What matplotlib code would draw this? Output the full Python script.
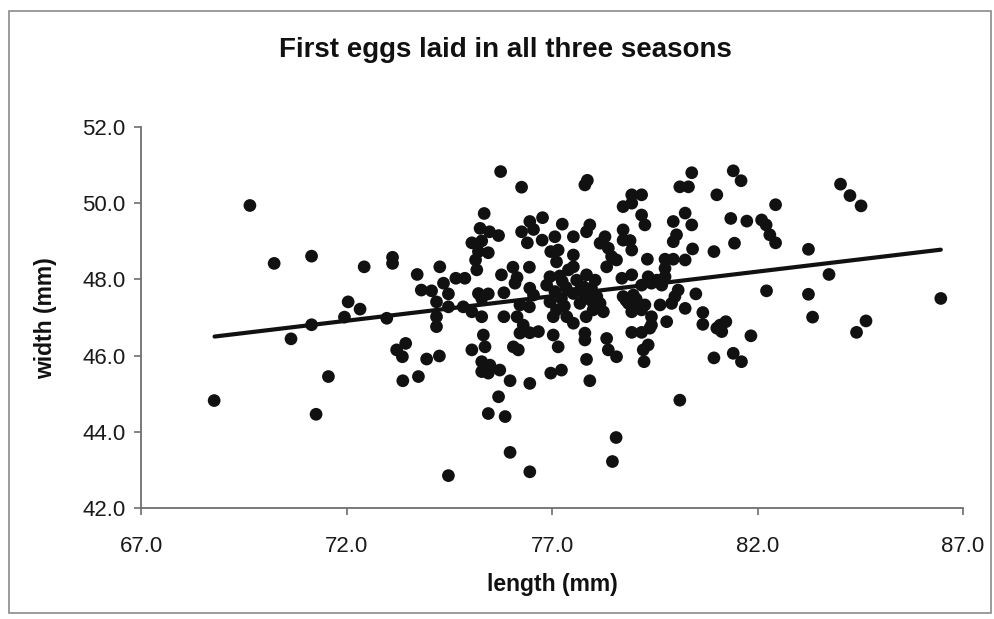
import matplotlib
matplotlib.use("Agg")
import matplotlib.pyplot as plt
from matplotlib.patches import Rectangle
import numpy as np

plt.rcParams['font.family'] = ['Liberation Sans', 'DejaVu Sans']

# egg measurements (length, width) in mm
length_mm = [
    # small eggs
    68.78, 69.65, 70.24, 70.65, 71.15, 71.15, 71.26, 71.56, 71.95, 72.04,
    72.33, 72.43, 72.98, 73.12, 73.12, 73.22, 73.44, 73.36, 73.37, 73.72,
    73.82, 73.75, 73.95,
    # 74 - 77.5 mm
    75.75, 76.26, 75.35, 76.77, 76.46, 77.25, 75.25, 75.48, 75.70, 76.26,
    76.55, 76.40, 76.76, 77.07, 75.05, 75.29, 75.21, 75.45, 76.97, 77.15,
    75.14, 77.11, 74.27, 75.17, 76.05, 76.45, 74.66, 74.88, 75.77, 76.15,
    74.36, 76.10, 76.95, 77.19, 74.07, 74.48, 75.21, 75.45, 75.83, 76.46,
    76.87, 76.55, 77.07, 77.34, 74.19, 75.29, 76.22, 76.45, 76.95, 77.23,
    74.48, 74.84, 75.05, 74.19, 75.29, 75.83, 76.15, 77.11, 77.03, 77.36,
    76.30, 74.19, 76.22, 76.46, 76.67, 77.03, 75.33, 75.37, 76.06, 76.18,
    77.15, 75.05, 74.26, 75.29, 75.49, 75.37, 75.29, 75.45, 75.73, 75.98,
    76.46, 76.97, 77.23, 75.70, 75.45, 75.86, 74.48, 75.98, 76.46,
    77.25, 77.40, 77.30,
    # 77.5 - 81 mm
    77.86, 77.80, 80.40, 80.11, 80.32, 81.01, 78.94, 79.18, 78.73, 78.94,
    79.18, 80.24, 79.95, 80.40, 79.26, 77.92, 77.84, 77.52, 78.73, 80.03,
    79.95, 78.29, 78.17, 78.73, 78.90, 78.37, 78.94, 80.42, 80.94, 77.52,
    78.45, 78.57, 79.32, 79.75, 79.95, 80.24, 77.52, 78.33, 79.75, 77.84,
    78.05, 78.70, 78.94, 79.34, 79.55, 79.75, 77.60, 77.76, 77.96, 79.18,
    79.42, 79.67, 77.52, 77.80, 78.09, 78.73, 78.98, 80.07, 80.50, 77.68,
    78.17, 78.86, 79.06, 79.26, 79.63, 79.91, 79.99, 78.94, 79.18, 78.25,
    80.24, 80.67, 77.83, 79.42, 79.79, 77.52, 80.67, 81.01, 77.80, 79.42,
    78.94, 79.18, 79.38, 77.80, 78.33, 79.34, 79.22, 78.37, 78.57, 77.84,
    79.24, 80.94, 77.92, 80.11, 78.47, 78.56,
    78.80, 79.05, 78.95, 77.95, 78.00, 77.70,
    # large eggs
    81.41, 81.60, 81.35, 81.74, 82.10, 82.21, 82.30, 82.44, 82.44, 81.44,
    82.22, 81.09, 81.23, 81.13, 81.84, 81.41, 81.61, 84.02, 84.25, 84.52,
    83.24, 83.74, 83.24, 83.34, 86.46, 84.64, 84.41,
]
width_mm = [
    44.82, 49.94, 48.42, 46.44, 48.61, 46.81, 44.46, 45.45, 47.01, 47.41,
    47.22, 48.33, 46.98, 48.58, 48.42, 46.15, 46.32, 45.97, 45.34, 48.13,
    47.72, 45.45, 45.91,
    50.83, 50.42, 49.73, 49.62, 49.52, 49.45, 49.34, 49.25, 49.15, 49.25,
    49.31, 48.96, 49.03, 49.12, 48.96, 49.01, 48.73, 48.70, 48.73, 48.77,
    48.51, 48.46, 48.33, 48.25, 48.32, 48.32, 48.03, 48.03, 48.12, 48.05,
    47.90, 47.90, 48.07, 48.09, 47.70, 47.62, 47.63, 47.62, 47.65, 47.77,
    47.85, 47.59, 47.68, 47.79, 47.41, 47.50, 47.33, 47.28, 47.41, 47.50,
    47.28, 47.28, 47.15, 47.02, 47.02, 47.02, 47.02, 47.20, 47.02, 47.02,
    46.80, 46.76, 46.59, 46.60, 46.63, 46.54, 46.54, 46.23, 46.23, 46.15,
    46.23, 46.15, 45.99, 45.84, 45.75, 45.67, 45.58, 45.54, 45.62, 45.34,
    45.27, 45.54, 45.62, 44.92, 44.48, 44.40, 42.85, 43.46, 42.95,
    47.95, 48.25, 47.30,
    50.60, 50.48, 50.80, 50.43, 50.43, 50.22, 50.22, 50.22, 49.91, 50.00,
    49.69, 49.74, 49.52, 49.43, 49.43, 49.43, 49.25, 49.12, 49.30, 49.17,
    48.99, 49.12, 48.95, 49.03, 49.02, 48.82, 48.77, 48.80, 48.73, 48.64,
    48.60, 48.51, 48.53, 48.53, 48.53, 48.51, 48.33, 48.33, 48.29, 48.12,
    47.98, 48.03, 48.12, 48.07, 47.98, 48.07, 47.98, 47.81, 47.77, 47.85,
    47.90, 47.85, 47.63, 47.55, 47.55, 47.55, 47.59, 47.72, 47.62, 47.37,
    47.37, 47.37, 47.33, 47.33, 47.33, 47.37, 47.55, 47.15, 47.20, 47.15,
    47.24, 47.13, 47.02, 47.02, 46.89, 46.85, 46.82, 46.72, 46.59, 46.80,
    46.61, 46.61, 46.72, 46.41, 46.45, 46.28, 46.15, 46.15, 45.97, 45.90,
    45.84, 45.94, 45.34, 44.83, 43.22, 43.85,
    47.45, 47.48, 47.28, 47.45, 47.20, 47.75,
    50.85, 50.59, 49.60, 49.53, 49.56, 49.43, 49.17, 48.96, 49.96, 48.95,
    47.70, 46.80, 46.89, 46.63, 46.52, 46.06, 45.84, 50.50, 50.20, 49.93,
    48.79, 48.13, 47.61, 47.01, 47.50, 46.91, 46.61,
]

# linear trend line end points (length, width)
trend_length = [68.79, 86.46]
trend_width = [46.50, 48.78]

x_ticks = [67.0, 72.0, 77.0, 82.0, 87.0]
y_ticks = [42.0, 44.0, 46.0, 48.0, 50.0, 52.0]

fig = plt.figure(figsize=(9.95, 6.19), dpi=100)
ax = fig.add_axes([141 / 995, 1 - 508 / 619, (963 - 141) / 995, (508 - 127) / 619])

ax.scatter(length_mm, width_mm, s=84, color='#111111', edgecolors='none', zorder=3)
ax.plot(trend_length, trend_width, color='#111111', lw=3.0, solid_capstyle='round', zorder=4)

ax.set_xlim(67, 87)
ax.set_ylim(42, 52)
ax.set_xticks(x_ticks)
ax.set_yticks(y_ticks)
ax.set_xticklabels([f"{v:.1f}" for v in x_ticks])
ax.set_yticklabels([f"{v:.1f}" for v in y_ticks])

for side in ('top', 'right'):
    ax.spines[side].set_visible(False)
for side in ('left', 'bottom'):
    ax.spines[side].set_color('#6e6e6e')
    ax.spines[side].set_linewidth(1.3)

ax.tick_params(axis='x', direction='out', length=5, width=1.2, color='#6e6e6e',
               labelsize=16, pad=15, labelcolor='#1a1a1a')
ax.tick_params(axis='y', direction='out', length=5, width=1.2, color='#6e6e6e',
               labelsize=16, pad=6, labelcolor='#1a1a1a')

fig.text(505 / 995, 1 - 50 / 619, 'First eggs laid in all three seasons',
         ha='center', va='center', fontsize=20, fontweight='bold', color='#111111')
fig.text(552 / 995, 1 - 585 / 619, 'length (mm)', ha='center', va='center',
         fontsize=16.5, fontweight='bold', color='#111111')
fig.text(46 / 995, 1 - 318 / 619, 'width (mm)', ha='center', va='center',
         rotation=90, fontsize=16.5, fontweight='bold', color='#111111')

# outer chart border
fig.patches.append(Rectangle((9 / 995, 6 / 619), 982 / 995, 602 / 619,
                             transform=fig.transFigure, fill=False,
                             edgecolor='#8a8a8a', linewidth=1.2))

fig.savefig('out.png', dpi=100)
